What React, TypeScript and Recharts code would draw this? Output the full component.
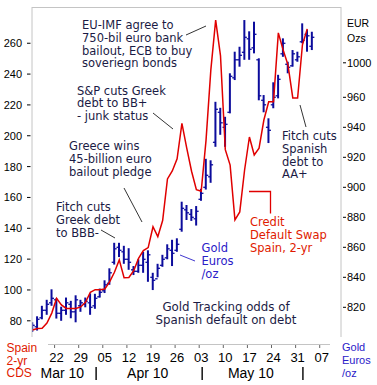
import React from 'react';
import { ComposedChart, Line, Bar, XAxis, YAxis } from 'recharts';

// trading-day index 0 = Mon 15 Mar 2010
const dayIndex: number[] = Array.from({ length: 60 }, (_, k) => k);

// Spain 2-yr CDS (left axis), bp
const cds: (number | null)[] = [
  74, 75, 75.2, 78.5, 85, 94.6, 90.3, 88, 88, 88,
  89, 92, 98.5, 100.2, 100.2, 100.6, 105.2, 111.5, 119.5, 108,
  108.1, 112.5, 120.5, 125.5, 127.5, 141, 134.6, 145, 172, 177.2,
  185, 208, 192, 177, 165, 164, 197, 242.7, 275, 252,
  191, 181, 145.4, 150.6, 177.8, 199.2, 187.5, 192, 210.2, 222,
  222, 266.7, 255.6, 246, 224.5, 224.5, 259, 269.3, null, null,
];

// Gold in euros per ounce (right axis), OHLC
const goldHigh: (number | null)[] = [
  810, 814, 821, 825, 832, 826, 820.4, 826.5, 824.3, 828,
  825, 826.5, 829.3, 829, 832.5, 838, 846, 863, 863, 861,
  859.4, 847.5, 852, 857, 858, 843, 849, 855, 862, 865,
  866, 890.4, 888.2, 885.5, 887.5, 899, 919, 918, 957, 953,
  947, 976, 990.4, 993.7, 1011.5, 1004, 1010.4, 986, 961.5, 946,
  970, 975, 999.3, 983.7, 991.5, 990.4, 1009.3, 1005, 1003.7, null,
];
const goldLow: (number | null)[] = [
  803.5, 804.5, 812, 815, 821, 812.5, 811, 815, 812.7, 810,
  817, 820, 815, 819, 826.5, 829.5, 835, 848.5, 853.5, 849,
  845, 841.5, 843, 843, 837, 831.5, 840, 847, 852, 847.5,
  857, 870.4, 878.2, 877.6, 874.5, 891, 898.5, 903, 927, 935,
  927, 949.3, 971.5, 980.4, 985, 985, 989.3, 958, 950, 929.5,
  952.7, 959.3, 987, 976, 980.4, 983.7, 996, 990.4, 991.5, null,
];
const goldOpen: (number | null)[] = [
  804, 807, 813, 818, 823, 825, 816, 818, 822, 817,
  821, 822, 823, 821, 827, 831, 836, 850, 860, 857,
  852, 845, 844, 848, 850, 840, 839, 848, 853, 858,
  858, 872, 885, 882, 879, 892, 900, 907, 930, 950,
  940, 950, 973, 985, 990, 999, 993, 985, 958, 940,
  955, 961, 989, 982, 981, 985, 997, 1002, 994, null,
];
const goldClose: (number | null)[] = [
  808, 812, 818, 822, 826, 816, 818, 823, 817, 825,
  823, 824, 820, 826, 830, 835, 843, 859, 858, 852,
  850, 844, 848, 852, 855, 838, 846, 852, 859, 856,
  862, 886, 883, 880, 884, 896, 908, 915, 952, 943,
  942, 974, 985, 988, 1000, 992, 1002, 961, 955, 938,
  960, 972, 996, 980, 989, 987, 998, 1001, 1000, null,
];

const xTickValues = [5, 10, 15, 20, 25, 30, 35, 40, 45, 50, 55, 60];
const xTickLabels = ['22', '29', '05', '12', '19', '26', '03', '10', '17', '24', '31', '07'];
const monthTickValues = [6.2, 13.2, 23.9, 35.2, 45.3, 56.1];
const monthTickLabels = ['Mar 10', '|', 'Apr 10', '|', 'May 10', '|'];
const leftTicks = [80, 100, 120, 140, 160, 180, 200, 220, 240, 260];
const rightTicks = [820, 840, 860, 880, 900, 920, 940, 960, 983];
const rightTickLabels = ['820', '840', '860', '880', '900', '920', '940', '960', '1000'];

const data = dayIndex.map((i, k) => ({
  i,
  cds: cds[k],
  range: goldHigh[k] != null && goldLow[k] != null ? [goldLow[k], goldHigh[k]] : null,
  high: goldHigh[k],
  low: goldLow[k],
  open: goldOpen[k],
  close: goldClose[k],
}));

const AX = 'Liberation Sans, Arial, sans-serif';
const AN = 'DejaVu Sans, Verdana, sans-serif';
const NAVY = '#1b1b45';
const RED = '#e00000';
const REDTXT = '#e01a00';
const BLUE = '#2a20c8';
const BARC = '#0c0c9c';
const FRAME = '#c4c4c4';

const OHLC = (props: any) => {
  const { x, y, width, height, payload } = props;
  if (payload == null || payload.high == null || height == null) return null;
  const cx = x + width / 2;
  const span = payload.high - payload.low;
  const toY = (v: number) => (span === 0 ? y : y + ((payload.high - v) / span) * height);
  const yo = toY(payload.open);
  const yc = toY(payload.close);
  return (
    <g>
      <line x1={cx} x2={cx} y1={y} y2={y + height} stroke={BARC} strokeWidth={2} />
      <line x1={cx - 2.5} x2={cx} y1={yo} y2={yo} stroke={BARC} strokeWidth={1.3} />
      <line x1={cx} x2={cx + 2.5} y1={yc} y2={yc} stroke={BARC} strokeWidth={1.3} />
    </g>
  );
};

const DayTick = (props: any) => {
  const { x, payload } = props;
  const idx = xTickValues.indexOf(payload.value);
  return (
    <g>
      <line x1={x - 2} x2={x - 2} y1={345} y2={348} stroke="#666" strokeWidth={1} />
      <text x={x} y={361.5} textAnchor="middle" fontFamily={AX} fontSize={13} fill="#000">
        {idx >= 0 ? xTickLabels[idx] : ''}
      </text>
    </g>
  );
};

const MonthTick = (props: any) => {
  const { x, payload } = props;
  const idx = monthTickValues.indexOf(payload.value);
  const label = idx >= 0 ? monthTickLabels[idx] : '';
  if (label === '|') {
    return <line x1={x} x2={x} y1={367} y2={380} stroke="#000" strokeWidth={1.4} />;
  }
  return (
    <text x={x} y={377.5} textAnchor="middle" fontFamily={AX} fontSize={14} fill="#000">
      {label}
    </text>
  );
};

const LeftTick = (props: any) => {
  const { y, payload } = props;
  return (
    <g>
      <text x={22} y={y + 4} textAnchor="end" fontFamily={AX} fontSize={11} fill="#000">
        {payload.value}
      </text>
      <line x1={27} x2={30.5} y1={y} y2={y} stroke="#000" strokeWidth={1} />
    </g>
  );
};

const RightTick = (props: any) => {
  const { y, payload } = props;
  const idx = rightTicks.indexOf(payload.value);
  return (
    <g>
      <line x1={343} x2={346} y1={y} y2={y} stroke="#000" strokeWidth={1} />
      <text x={347} y={y + 4} textAnchor="start" fontFamily={AX} fontSize={11} fill="#000">
        {idx >= 0 ? rightTickLabels[idx] : ''}
      </text>
    </g>
  );
};

const Lines = ({ x, y, lines, color, size, family, anchor, lh }: any) => (
  <text fontFamily={family || AN} fontSize={size || 11.5} fill={color} textAnchor={anchor || 'start'}>
    {lines.map((t: string, k: number) => (
      <tspan key={k} x={x} y={y + k * (lh || 12.8)}>
        {t}
      </tspan>
    ))}
  </text>
);

export default function App() {
  return (
    <div style={{ position: 'absolute', left: 0, top: 0, width: 377, height: 385, background: '#fff' }}>
      <ComposedChart
        width={377}
        height={385}
        data={data}
        margin={{ top: 7, right: 0, bottom: 0, left: 0 }}
      >
        <XAxis
          xAxisId="d"
          dataKey="i"
          type="number"
          domain={[-0.1, 64]}
          allowDataOverflow
          ticks={xTickValues}
          interval={0}
          height={30}
          axisLine={false}
          tickLine={false}
          tick={<DayTick />}
        />
        <XAxis
          xAxisId="m"
          dataKey="i"
          type="number"
          domain={[-0.1, 64]}
          allowDataOverflow
          ticks={monthTickValues}
          interval={0}
          height={18}
          axisLine={false}
          tickLine={false}
          tick={<MonthTick />}
        />
        <YAxis
          yAxisId="left"
          orientation="left"
          width={32}
          type="number"
          domain={[69.5, 283.5]}
          allowDataOverflow
          ticks={leftTicks}
          interval={0}
          axisLine={{ stroke: FRAME, strokeWidth: 1 }}
          tickLine={false}
          tick={<LeftTick />}
        />
        <YAxis
          yAxisId="right"
          orientation="right"
          width={36}
          type="number"
          domain={[800.2, 1020.2]}
          allowDataOverflow
          ticks={rightTicks}
          interval={0}
          axisLine={{ stroke: FRAME, strokeWidth: 1 }}
          tickLine={false}
          tick={<RightTick />}
        />
        <Bar
          xAxisId="d"
          yAxisId="right"
          dataKey="range"
          barSize={5}
          shape={<OHLC />}
          isAnimationActive={false}
        />
        <Line
          xAxisId="d"
          yAxisId="left"
          dataKey="cds"
          type="linear"
          stroke={RED}
          strokeWidth={1.5}
          dot={false}
          activeDot={false}
          isAnimationActive={false}
        />
      </ComposedChart>
      <svg
        width={377}
        height={385}
        style={{ position: 'absolute', left: 0, top: 0, pointerEvents: 'none' }}
      >
        <line x1={32} x2={341} y1={7.5} y2={7.5} stroke={FRAME} strokeWidth={1} />
        <line x1={48} x2={330} y1={344.5} y2={344.5} stroke={FRAME} strokeWidth={1} />

        <Lines x={82} y={29} color={NAVY} lines={['EU-IMF agree to', '750-bil euro bank', 'bailout, ECB to buy', 'soveriegn bonds']} />
        <line x1={186} y1={35} x2={206} y2={26} stroke="#000" strokeWidth={0.8} />

        <Lines x={77} y={94.5} color={NAVY} lines={['S&P cuts Greek', 'debt to BB+', '- junk status']} />
        <line x1={153} y1={113} x2={173} y2={129} stroke="#000" strokeWidth={0.8} />

        <Lines x={69} y={150} color={NAVY} lines={['Greece wins', '45-billion euro', 'bailout pledge']} />
        <line x1={124} y1={188} x2={142} y2={222} stroke="#000" strokeWidth={0.8} />

        <Lines x={56} y={211} color={NAVY} lines={['Fitch cuts', 'Greek debt', 'to BBB-']} />
        <line x1={101} y1={230} x2={115} y2={238} stroke="#000" strokeWidth={0.8} />

        <Lines x={282} y={140} color={NAVY} lines={['Fitch cuts', 'Spanish', 'debt to', 'AA+']} />
        <line x1={300} y1={105} x2={306} y2={127} stroke="#000" strokeWidth={0.8} />

        <Lines x={201.5} y={252} color={BLUE} lines={['Gold', 'Euros', '/oz']} />
        <line x1={180} y1={255} x2={195} y2={261} stroke={BLUE} strokeWidth={0.9} />

        <Lines x={250} y={226} color={REDTXT} lines={['Credit', 'Default Swap', 'Spain, 2-yr']} />
        <polyline points="249,191.5 270.5,191.5 270.5,213.5" fill="none" stroke={RED} strokeWidth={1.3} />

        <Lines x={226} y={310.5} color={NAVY} size={11.8} anchor="middle" lh={13.3} lines={['Gold Tracking odds of', 'Spanish default on debt']} />

        <Lines x={6.5} y={352} color={REDTXT} family={AX} size={12} lh={12.5} lines={['Spain', '2-yr', 'CDS']} />
        <Lines x={342} y={351} color={BLUE} family={AX} size={11} lh={12.8} lines={['Gold', 'Euros', '/oz']} />
        <Lines x={347} y={26.5} color="#000" family={AX} size={10.5} lh={15.6} lines={['EUR', 'Ozs']} />
      </svg>
    </div>
  );
}
